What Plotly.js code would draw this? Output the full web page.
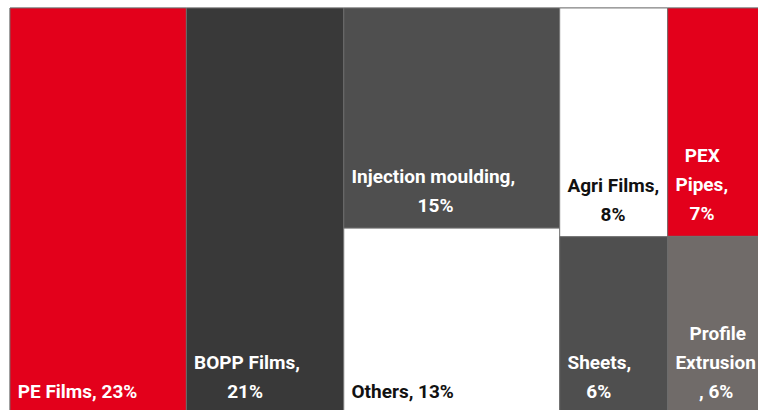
<!DOCTYPE html>
<html>
<head>
<meta charset="utf-8">
<script src="https://cdn.plot.ly/plotly-3.0.1.min.js"></script>
<style>
  html, body { margin: 0; padding: 0; background: #ffffff; overflow: hidden; }
  #chart { width: 766px; height: 414px; }
</style>
</head>
<body>
<div id="chart"></div>
<script>
// Column groups (unlabelled) and segments
const groupIds = ["g1", "g2", "g3", "g4", "g5"];
const segmentIds = ["pe", "bopp", "inj", "others", "agri", "sheets", "pex", "profile"];
const segmentParents = ["g1", "g2", "g3", "g3", "g4", "g4", "g5", "g5"];
const segmentNames = ["PE Films", "BOPP Films", "Injection moulding", "Others", "Agri Films", "Sheets", "PEX Pipes", "Profile Extrusion"];
// label lines as printed in the chart
const segmentLabelLines = [
  ["PE Films, 23%"],
  ["BOPP Films,", "21%"],
  ["Injection moulding,", "15%"],
  ["Others, 13%"],
  ["Agri Films,", "8%"],
  ["Sheets,", "6%"],
  ["PEX", "Pipes,", "7%"],
  ["Profile", "Extrusion", ", 6%"]
];
// shares as read from tile areas (labels round them)
const segmentValues = [23.2, 20.7, 15.4, 13.0, 8.0, 6.2, 7.2, 5.6];
const segmentColors = ["#e3001b", "#393939", "#4f4f4f", "#ffffff", "#ffffff", "#4f4f4f", "#e3001b", "#706b69"];
const segmentTextColors = ["#ffffff", "#ffffff", "#ffffff", "#111111", "#111111", "#ffffff", "#ffffff", "#ffffff"];

// ---- text styling helpers ----
const GLYPH_SIZE = 19;        // visible glyph size
const BASE_SIZE = 22.3;       // base size -> sets the line spacing (1.3em)
const FONT_FAMILY = "Roboto";
const BOTTOM_LIFT_SIZE = 52;  // invisible trailing space lifts text off the tile bottom
const NBSP = "\u00A0";
const ctx = document.createElement("canvas").getContext("2d");
ctx.font = "bold " + GLYPH_SIZE + "px " + FONT_FAMILY;
const nbspW = ctx.measureText(NBSP).width || GLYPH_SIZE * 0.25;

function buildLabel(lines) {
  const widths = lines.map(l => ctx.measureText(l).width);
  const maxW = Math.max.apply(null, widths);
  const n = lines.length;
  return lines.map((line, i) => {
    const pad = 1 + Math.round((maxW - widths[i]) / 2 / nbspW);
    let content = '<span style="font-size:' + GLYPH_SIZE + 'px">' + NBSP.repeat(pad) + line + '</span>';
    if (i === n - 1) {
      content += '<span style="font-size:' + BOTTOM_LIFT_SIZE + 'px">' + NBSP + '</span>';
    }
    return content;
  }).join("<br>");
}

const ids = groupIds.concat(segmentIds);
const parents = groupIds.map(() => "").concat(segmentParents);
const labels = groupIds.map(() => "").concat(segmentNames);
const texts = groupIds.map(() => "").concat(segmentLabelLines.map(buildLabel));
const values = groupIds.map(() => 0).concat(segmentValues);
const colors = groupIds.map(() => "#ffffff").concat(segmentColors);
const textColors = groupIds.map(() => "#ffffff").concat(segmentTextColors);

const trace = {
  type: "treemap",
  ids: ids,
  parents: parents,
  labels: labels,
  text: texts,
  values: values,
  branchvalues: "remainder",
  sort: false,
  textinfo: "text",
  textposition: "bottom left",
  textfont: { family: FONT_FAMILY + ", Arial, sans-serif", size: BASE_SIZE, weight: "bold", color: textColors },
  marker: {
    colors: colors,
    line: { color: "rgba(110,110,110,0.85)", width: 1 },
    pad: { t: 0, l: 0, r: 0, b: 0 }
  },
  tiling: { packing: "slice-dice", pad: 0 },
  pathbar: { visible: false },
  hoverinfo: "none"
};

const layout = {
  width: 766,
  height: 414,
  margin: { l: 10, r: 1, t: 8, b: 0 },
  paper_bgcolor: "#ffffff",
  showlegend: false
};

Plotly.newPlot("chart", [trace], layout, { displayModeBar: false, staticPlot: true });
</script>
</body>
</html>
